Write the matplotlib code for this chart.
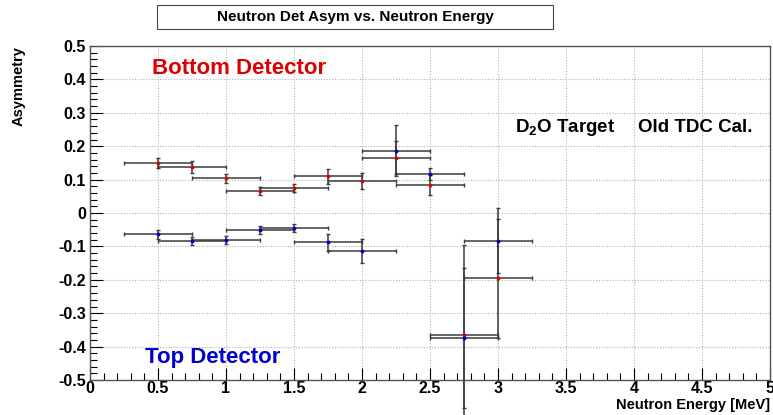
import numpy as np
import matplotlib
matplotlib.use("Agg")
from matplotlib import pyplot as plt
from matplotlib.patches import Rectangle
from matplotlib.ticker import MultipleLocator

plt.rcParams['font.family'] = ['Liberation Sans', 'DejaVu Sans']
plt.rcParams['font.weight'] = 'bold'
plt.rcParams['mathtext.default'] = 'regular'

# energia centrale dei bin (MeV), semi-larghezza 0.25
energy = [0.5, 0.75, 1.0, 1.25, 1.5, 1.75, 2.0, 2.25, 2.5, 2.75, 3.0]
e_half = 0.25

bottom_asym = [0.151, 0.138, 0.104, 0.065, 0.075, 0.110, 0.095, 0.166, 0.084, -0.365, -0.196]
bottom_err = [0.015, 0.017, 0.013, 0.012, 0.013, 0.022, 0.024, 0.050, 0.030, 0.270, 0.177]

top_asym = [-0.064, -0.084, -0.081, -0.051, -0.045, -0.088, -0.114, 0.187, 0.116, -0.375, -0.083]
top_err = [0.013, 0.011, 0.012, 0.013, 0.011, 0.025, 0.037, 0.076, 0.018, 0.210, 0.097]

x_ticks = [0, 0.5, 1, 1.5, 2, 2.5, 3, 3.5, 4, 4.5, 5]
x_labels = ["0", "0.5", "1", "1.5", "2", "2.5", "3", "3.5", "4", "4.5", "5"]
y_ticks = [0.5, 0.4, 0.3, 0.2, 0.1, 0, -0.1, -0.2, -0.3, -0.4, -0.5]
y_labels = ["0.5", "0.4", "0.3", "0.2", "0.1", "0", "-0.1", "-0.2", "-0.3", "-0.4", "-0.5"]

W, H = 773, 415
fig = plt.figure(figsize=(W / 100, H / 100), dpi=100)
ax = fig.add_axes([90 / W, 35 / H, 680 / W, 334 / H])

bar_col = "#3c3c3c"
for asym, err, col in [(bottom_asym, bottom_err, "#e00000"), (top_asym, top_err, "#0000d0")]:
    eb = ax.errorbar(energy, asym, xerr=e_half, yerr=err, fmt='o', ms=1.8, mfc=col, mec=col,
                     ecolor=bar_col, elinewidth=1.1, capsize=1.5, capthick=1.0, zorder=3)
    # ROOT non taglia le barre d'errore al bordo
    for artist in eb.lines[1] + eb.lines[2]:
        artist.set_clip_on(False)

ax.set_xlim(0, 5)
ax.set_ylim(-0.5, 0.5)
ax.set_xticks(x_ticks)
ax.set_xticklabels(x_labels)
ax.set_yticks(y_ticks)
ax.set_yticklabels(y_labels)
ax.xaxis.set_minor_locator(MultipleLocator(0.1))
ax.yaxis.set_minor_locator(MultipleLocator(0.02))
ax.tick_params(which='major', direction='in', length=9, width=0.8, labelsize=11.5, pad=3)
ax.tick_params(axis='x', which='major', pad=1)
ax.tick_params(which='minor', direction='in', length=5, width=0.8)
ax.grid(True, which='major', color='#b0b0b0', linestyle=(0, (1, 1.5)), linewidth=0.8)
for s in ax.spines.values():
    s.set_color('#555555')
    s.set_linewidth(1.0)

ax.set_xlabel("Neutron Energy [MeV]", fontsize=10.5, fontweight='bold')
ax.xaxis.set_label_coords(1.0, -0.076)
ax.xaxis.label.set_horizontalalignment('right')
ax.xaxis.label.set_verticalalignment('center')
ax.set_ylabel("Asymmetry", fontsize=10.5, fontweight='bold')
ax.yaxis.set_label_coords(-0.105, 1.0)
ax.yaxis.label.set_verticalalignment('center')
ax.yaxis.label.set_horizontalalignment('right')

# titolo nel riquadro
fig.patches.append(Rectangle((157 / W, 1 - 29 / H), 396 / W, 24 / H, transform=fig.transFigure,
                             fill=False, edgecolor='#444444', linewidth=0.8))
fig.text(355 / W, 1 - 17 / H, "Neutron Det Asym vs. Neutron Energy", ha='center', va='center',
         fontsize=11, fontweight='bold')

fig.text(152 / W, 1 - 68 / H, "Bottom Detector", color='#dd0000', fontsize=16, fontweight='bold',
         va='center', ha='left')
fig.text(145 / W, 1 - 357 / H, "Top Detector", color='#0000cc', fontsize=16, fontweight='bold',
         va='center', ha='left')
fig.text(515 / W, 1 - 128 / H, "D$_2$O Target", fontsize=13.5, fontweight='bold', va='center', ha='left')
fig.text(638 / W, 1 - 128 / H, "Old TDC Cal.", fontsize=13.5, fontweight='bold', va='center', ha='left')

fig.savefig("out.png", dpi=100)
